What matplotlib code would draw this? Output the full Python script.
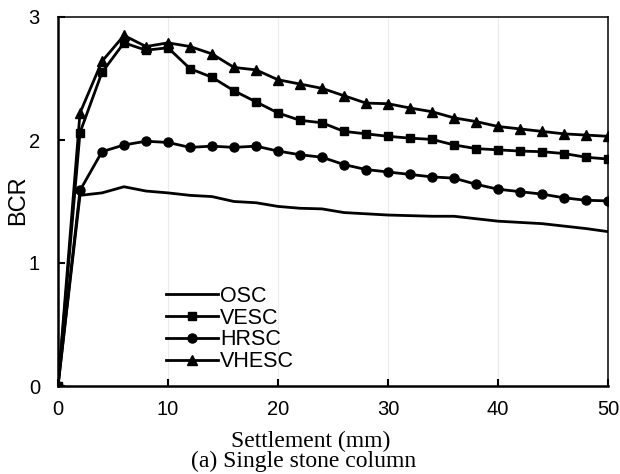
import numpy as np
import matplotlib.pyplot as plt

# settlement (mm), readings every 2 mm
settlement = [0, 2, 4, 6, 8, 10, 12, 14, 16, 18, 20, 22, 24, 26,
              28, 30, 32, 34, 36, 38, 40, 42, 44, 46, 48, 50]

osc = [0, 1.55, 1.57, 1.62, 1.585, 1.57, 1.55, 1.54, 1.50, 1.49, 1.46, 1.445, 1.44,
       1.41, 1.40, 1.39, 1.385, 1.38, 1.38, 1.36, 1.34, 1.33, 1.32, 1.30, 1.28, 1.255]
vesc = [0, 2.06, 2.55, 2.79, 2.73, 2.75, 2.58, 2.51, 2.40, 2.31, 2.22, 2.16, 2.14,
        2.07, 2.05, 2.03, 2.015, 2.005, 1.96, 1.93, 1.92, 1.91, 1.905, 1.89, 1.86, 1.845]
hrsc = [0, 1.59, 1.905, 1.96, 1.99, 1.98, 1.94, 1.95, 1.94, 1.95, 1.91, 1.88, 1.86,
        1.80, 1.76, 1.74, 1.72, 1.70, 1.69, 1.64, 1.60, 1.58, 1.56, 1.53, 1.51, 1.505]
vhesc = [0, 2.22, 2.64, 2.85, 2.76, 2.79, 2.76, 2.70, 2.59, 2.57, 2.49, 2.455, 2.42,
         2.36, 2.30, 2.295, 2.26, 2.23, 2.18, 2.15, 2.11, 2.09, 2.07, 2.05, 2.04, 2.03]

fig = plt.figure(figsize=(6.2, 4.74), dpi=100)
ax = fig.add_axes([58 / 620, 1 - 386 / 474, 550 / 620, 369 / 474])

lw = 2.0
ax.plot(settlement, osc, color='black', lw=lw, label='OSC')
ax.plot(settlement, vesc, color='black', lw=lw, marker='s', ms=6, label='VESC')
ax.plot(settlement, hrsc, color='black', lw=lw, marker='o', ms=6.5, label='HRSC')
ax.plot(settlement, vhesc, color='black', lw=lw, marker='^', ms=6.5, label='VHESC')

ax.set_xlim(0, 50)
ax.set_ylim(0, 3)
ax.set_xticks([0, 10, 20, 30, 40, 50])
ax.set_yticks([0, 1, 2, 3])
ax.grid(axis='x', color='#ebebeb', lw=0.8)
ax.set_axisbelow(True)

ax.tick_params(direction='in', length=5, width=1.5, labelsize=14.5)
ax.tick_params(axis='x', pad=10)
ax.tick_params(axis='y', pad=13)
for lab in ax.get_xticklabels() + ax.get_yticklabels():
    lab.set_family('Liberation Sans')
for side in ['left', 'bottom']:
    ax.spines[side].set_linewidth(1.8)
for side in ['top', 'right']:
    ax.spines[side].set_linewidth(1.1)

# axis titles were placed by hand in the original, not centred on the axes
ax.set_ylabel('BCR', family='Liberation Sans', fontsize=17, va='center')
ax.yaxis.set_label_coords((18 - 58) / 550, (386 - 200) / 369)
ax.set_xlabel('Settlement (mm)', family='Liberation Serif', fontsize=17, va='center')
ax.xaxis.set_label_coords((311 - 58) / 550, (386 - 441) / 369)
fig.text(304 / 620, 1 - 461 / 474, '(a) Single stone column',
         family='Liberation Serif', fontsize=17, ha='center', va='center')

leg = ax.legend(loc='upper left', bbox_to_anchor=(0.181, 0.295), frameon=False,
                handlelength=2.4, handletextpad=0.1, labelspacing=0.04,
                borderaxespad=0, prop={'family': 'Liberation Sans', 'size': 15.5})

fig.savefig('out.png', dpi=100)
